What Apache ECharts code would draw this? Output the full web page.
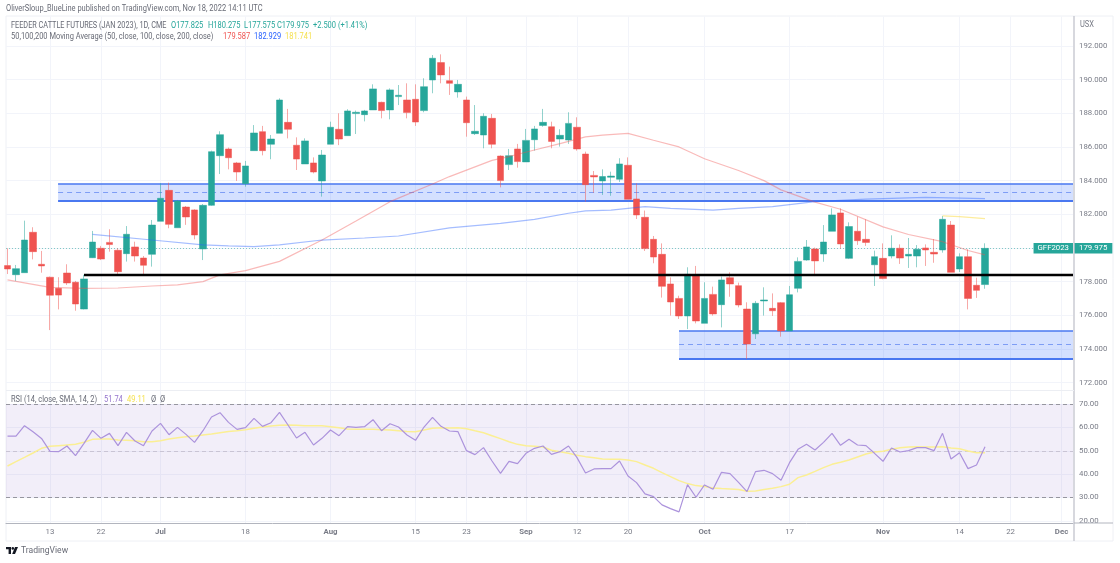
<!DOCTYPE html>
<html>
<head>
<meta charset="utf-8">
<style>html,body{margin:0;padding:0;background:#fff}#c{width:1120px;height:563px}</style>
<script src="https://cdn.jsdelivr.net/npm/echarts@6/dist/echarts.min.js"></script>
</head>
<body>
<div id="c"></div>
<script>
const opens = [178.95,178.41,178.53,180.93,179.03,178.26,177.60,178.51,177.96,176.37,179.42,179.98,180.33,179.86,179.66,180.06,179.40,179.62,181.58,183.42,181.20,182.43,182.26,179.94,182.53,185.48,185.88,185.05,183.82,185.78,186.91,186.16,186.81,187.46,186.10,184.99,185.05,183.98,186.16,187.05,186.67,187.98,187.92,188.20,188.65,188.20,188.99,188.79,188.83,188.16,189.98,191.01,189.94,189.27,188.79,186.79,186.71,187.70,185.46,184.95,185.88,185.11,186.43,187.28,187.20,186.47,186.41,187.17,185.58,184.31,183.98,184.20,184.08,184.91,182.91,181.82,180.51,179.62,177.86,177.00,175.96,178.33,175.52,177.24,176.63,178.23,177.76,176.37,174.90,176.85,176.41,176.75,175.07,177.60,179.28,179.94,179.64,180.99,182.08,179.38,180.99,180.51,179.00,179.38,179.52,179.98,179.52,179.52,180.00,179.74,179.88,181.36,178.75,179.48,177.78,177.825];
const closes = [178.75,178.77,180.47,179.78,178.93,177.19,177.20,177.92,176.67,178.16,180.35,179.34,180.20,178.59,180.81,179.52,178.97,181.36,182.95,181.40,182.79,181.84,180.77,182.53,185.72,186.73,185.36,184.51,184.87,186.83,185.78,186.47,188.79,187.05,185.28,186.36,184.51,185.52,187.17,186.47,188.14,188.06,188.14,189.45,188.16,189.39,189.07,188.04,187.48,189.58,191.27,190.28,189.78,189.72,187.44,186.93,187.82,186.16,184.00,185.48,185.13,186.39,187.07,187.46,186.33,186.69,187.40,185.88,183.76,184.22,184.24,184.27,184.99,182.89,181.96,179.96,179.46,177.72,176.79,175.96,178.43,175.66,177.00,176.08,178.10,177.86,176.61,174.29,176.71,176.91,176.27,175.07,177.22,179.20,180.06,179.23,180.35,181.96,180.24,181.27,180.43,180.33,179.48,178.18,179.98,179.40,179.62,179.92,179.88,179.64,181.70,178.55,179.48,177.00,177.48,179.975];
const lows = [178.45,178.04,178.53,179.32,178.53,175.12,176.35,177.80,176.27,176.35,179.40,179.28,179.78,178.43,179.19,179.19,178.35,178.89,181.58,181.17,181.20,181.37,180.51,179.28,182.50,184.39,184.67,183.98,183.64,185.78,185.50,185.27,186.81,186.51,184.63,184.99,184.43,183.05,186.16,186.11,186.67,186.77,187.52,188.20,187.70,187.64,188.49,187.70,187.25,188.06,189.19,189.78,189.09,188.93,186.61,186.71,185.92,185.92,183.60,184.63,184.77,185.11,185.78,187.20,185.92,186.02,186.18,185.78,182.75,183.28,183.15,183.10,183.92,182.89,181.72,179.82,179.09,177.05,175.98,175.78,175.18,175.52,175.52,175.98,175.28,177.10,176.47,173.40,174.59,175.98,175.96,174.73,175.07,177.36,179.24,178.33,179.18,180.99,179.96,179.34,180.18,180.12,177.74,178.14,179.38,179.05,178.81,178.85,178.93,179.12,179.72,178.55,178.57,176.35,177.03,177.575];
const highs = [179.98,178.99,181.62,181.23,179.82,178.30,178.26,179.03,178.04,178.40,181.01,180.12,181.11,179.98,181.30,180.37,179.52,181.66,183.84,183.88,182.85,182.49,182.30,182.61,185.78,186.93,185.96,185.11,185.17,187.30,187.25,186.71,188.89,188.26,186.57,186.51,185.38,185.82,187.50,188.00,188.24,188.16,188.20,189.72,188.69,189.48,189.68,189.78,189.72,190.08,191.46,191.50,190.77,189.98,188.99,188.49,188.00,187.96,185.50,185.88,186.18,187.07,187.25,188.26,187.50,187.05,188.06,187.76,185.72,184.57,184.67,184.53,185.33,185.38,183.84,182.22,180.71,180.27,178.25,177.16,178.85,178.93,177.96,177.70,178.30,178.55,177.94,176.77,176.85,177.66,177.30,176.79,177.74,179.44,180.47,180.02,181.36,182.35,182.35,181.52,181.86,181.70,179.84,180.27,180.75,180.21,180.59,180.17,180.21,180.53,181.90,181.60,179.68,179.92,178.23,180.275];

const ma50Index = [0,5,9,13,17,20,23,25,28,32,37,41,45,50,52,57,59,62,65,68,70,73,76,79,82,86,89,91,95,98,103,106,110,113,115];
const ma50Values = [178.1,177.66,177.6,177.62,177.74,177.8,178.0,178.4,178.65,179.2,180.47,181.6,182.75,183.8,184.24,185.2,185.43,185.82,186.2,186.6,186.7,186.81,186.4,186.0,185.3,184.6,184.0,183.45,182.72,182.3,181.25,180.8,180.37,179.85,179.587];
const ma100Index = [10,17,23,26,29,32,37,42,46,52,58,62,66,68,71,75,78,83,86,90,95,101,108,115];
const ma100Values = [180.81,180.47,180.18,180.12,180.08,180.18,180.47,180.59,180.71,181.19,181.46,181.7,182.06,182.2,182.25,182.45,182.35,182.25,182.35,182.45,182.75,182.9,183.0,182.929];
const ma200Index = [110,112,115];
const ma200Values = [181.9,181.86,181.741];

const rsiValues = [56.3,56.3,60.74,58.18,55.3,49.77,49.63,52.05,47.92,53.19,58.75,55.33,57.46,52.19,57.89,54.19,52.19,58.46,61.74,56.89,60.03,57.04,53.62,58.6,64.45,66.3,62.17,59.17,59.89,63.87,60.46,62.02,66.44,61.03,55.47,57.89,52.48,55.33,58.89,56.47,60.31,60.03,60.31,63.3,58.6,61.6,60.17,56.75,54.47,60.17,64.3,60.46,58.46,58.18,50.06,48.35,51.34,45.64,40.37,45.5,44.5,48.92,51.05,52.05,48.49,49.63,52.05,47.07,40.51,42.22,42.36,42.36,45.64,39.23,36.38,31.54,30.4,26.84,25.27,23.85,35.53,30.12,35.39,33.53,40.8,40.23,36.5,32.54,41.08,41.65,40.23,37.38,44.93,50.63,52.76,50.34,53.62,57.46,52.34,54.9,52.48,52.19,48.92,45.5,51.2,49.49,50.06,51.34,51.34,50.06,57.46,46.5,49.2,42.36,43.93,51.74];
const rsiMaValues = [43.5,45.36,47.2,49.06,51.06,51.9,52.2,52.48,52.76,53.62,54.9,55.05,55.05,54.6,54.47,54.33,53.9,53.9,54.33,55.05,55.6,56.04,56.3,56.75,57.18,57.75,58.3,58.6,59.03,59.6,60.17,60.6,60.88,61.03,60.88,60.74,60.74,60.74,60.31,59.89,59.32,59.17,59.17,59.17,59.03,58.9,58.6,58.3,58.18,58.9,59.6,59.89,59.75,59.89,59.46,58.6,57.75,56.47,55.19,53.9,52.76,52.19,51.9,51.6,50.2,49.63,48.92,48.06,47.5,47.07,46.5,46.35,46.35,46.07,45.36,43.93,42.5,40.66,38.95,37.24,35.96,35.1,34.67,34.1,33.82,33.67,33.4,32.68,32.82,33.39,33.96,34.67,35.67,38.52,39.66,41.2,42.8,44.2,45.07,46.07,47.35,48.63,49.46,49.77,50.63,51.34,51.6,51.77,51.6,51.6,51.77,51.2,50.91,49.92,49.2,49.11];

const tickIndexes = [5,11,18,28,38,48,54,61,67,73,82,92,103,112,118,124];
const tickLabels = ['13','22','Jul','18','Aug','15','23','Sep','12','20','Oct','17','Nov','14','22','Dec'];
const monthLabels = ['Jul','Aug','Sep','Oct','Nov','Dec'];
const priceTicks = [172,174,176,178,180,182,184,186,188,190,192];
const priceLabelTicks = [172,174,176,178,182,184,186,188,190,192];
const rsiTicks = [20,30,40,50,60,70];

const lastPrice = 179.975;
const supportLevel = 178.38;
const supportStart = 9;
const upperZone = {start: 5.95, top: 183.82, mid: 183.31, bottom: 182.83};
const lowerZone = {start: 79, top: 175.07, mid: 174.27, bottom: 173.44};

const GREEN = '#26a69a', RED = '#ef5350';
const XMIN = -0.176, XMAX = 125.35;
const GRID = '#f2f4fa', AXIS_TXT = '#787b86', TXT = '#686b76';
const FONT = 'Roboto, "Liberation Sans", sans-serif';
const FS = 7.8;

const pairs = (idx, vals) => idx.map((x, i) => [x, vals[i]]);
const indexed = vals => vals.map((v, i) => [i, v]);
const candles = opens.map((o, i) => [i, o, closes[i], lows[i], highs[i]]);
const hline = (x1, x2, y) => [{coord: [x1, y]}, {coord: [x2, y]}];

function zoneSeries(z) {
  return {
    type: 'line', xAxisIndex: 0, yAxisIndex: 0, data: [], z: 1, silent: true,
    markArea: {silent: true, z: 1, animation: false,
      itemStyle: {color: 'rgba(41,98,255,0.2)', borderWidth: 0},
      data: [[{coord: [z.start, z.top]}, {coord: [XMAX, z.bottom]}]]},
    markLine: {silent: true, z: 1, animation: false, symbol: 'none', label: {show: false},
      data: [
        [{coord: [z.start, z.top], lineStyle: {color: '#4a78f0', width: 1.6, type: 'solid'}}, {coord: [XMAX, z.top]}],
        [{coord: [z.start, z.bottom], lineStyle: {color: '#4a78f0', width: 1.8, type: 'solid'}}, {coord: [XMAX, z.bottom]}],
        [{coord: [z.start, z.mid], lineStyle: {color: '#7e9df5', width: 1, type: [5, 4]}}, {coord: [XMAX, z.mid]}]
      ]}
  };
}

const chart = echarts.init(document.getElementById('c'), null, {renderer: 'canvas'});

const makeXAxis = (gridIndex, showLabels) => ({
  type: 'value', gridIndex, min: XMIN, max: XMAX, scale: true,
  axisLine: {show: showLabels, onZero: false, lineStyle: {color: '#b2b5be', width: 1}},
  axisTick: {show: false, customValues: tickIndexes},
  splitLine: {show: true, lineStyle: {color: GRID, width: 1}},
  axisLabel: {
    show: showLabels, customValues: tickIndexes, margin: 5, hideOverlap: false,
    showMinLabel: true, showMaxLabel: true,
    fontFamily: FONT, fontSize: FS, color: AXIS_TXT,
    formatter: v => {
      const s = tickLabels[tickIndexes.indexOf(v)] || '';
      return monthLabels.includes(s) ? '{m|' + s + '}' : s;
    },
    rich: {m: {fontFamily: FONT, fontSize: FS, fontWeight: 'bold', color: AXIS_TXT}}
  }
});

function txt(text, x, y, fill, size, sx) {
  return {type: 'text', silent: true, z: 20, x, y, scaleX: sx || 0.87,
    style: {text, fill, font: (size || 8.6) + 'px ' + FONT, textAlign: 'left', textVerticalAlign: 'middle'}};
}

const option = {
  animation: false,
  backgroundColor: '#fff',
  grid: [
    {left: 6, right: 47, top: 16.5, height: 373.5, containLabel: false},
    {left: 6, right: 47, top: 390.5, height: 132.5, containLabel: false}
  ],
  xAxis: [makeXAxis(0, false), makeXAxis(1, true)],
  yAxis: [
    {type: 'value', gridIndex: 0, position: 'right', min: 171.56, max: 193.75, scale: true,
      axisLine: {show: false}, axisTick: {show: false, customValues: priceTicks},
      splitLine: {show: true, lineStyle: {color: GRID, width: 1}},
      axisLabel: {customValues: priceLabelTicks, margin: 6, fontFamily: FONT, fontSize: FS, color: AXIS_TXT,
        formatter: v => v.toFixed(3)}},
    {type: 'value', gridIndex: 1, position: 'right', min: 19.1, max: 75.8, scale: true,
      axisLine: {show: false}, axisTick: {show: false, customValues: rsiTicks},
      splitLine: {show: true, lineStyle: {color: GRID, width: 1}},
      axisLabel: {customValues: rsiTicks, margin: 6, fontFamily: FONT, fontSize: FS, color: AXIS_TXT,
        formatter: v => v.toFixed(2)}}
  ],
  series: [
    zoneSeries(upperZone),
    zoneSeries(lowerZone),
    {type: 'line', data: [], xAxisIndex: 0, yAxisIndex: 0, z: 1, silent: true,
      markLine: {silent: true, z: 1, animation: false, symbol: 'none',
        lineStyle: {color: 'rgba(38,166,154,0.55)', type: [1, 2], width: 1},
        label: {show: true, position: 'end', distance: 1, formatter: lastPrice.toFixed(3), color: '#fff',
          backgroundColor: GREEN, padding: [1.5, 5, 1, 5], fontFamily: FONT, fontSize: FS},
        data: [[{coord: [XMIN, lastPrice]}, {coord: [XMAX, lastPrice]}]]}},
    {type: 'line', data: [], xAxisIndex: 0, yAxisIndex: 0, z: 7, silent: true,
      markLine: {silent: true, z: 7, animation: false, symbol: 'none',
        lineStyle: {color: 'transparent'},
        label: {show: true, position: 'insideEnd', distance: 0, formatter: 'GFF2023', color: '#fff',
          backgroundColor: GREEN, padding: [1.5, 4, 1, 4], fontFamily: FONT, fontSize: FS},
        data: [[{coord: [XMIN, lastPrice]}, {coord: [XMAX, lastPrice]}]]}},
    {type: 'candlestick', name: 'GFF2023', xAxisIndex: 0, yAxisIndex: 0, z: 2, silent: true,
      barWidth: 6.6, encode: {x: 0, y: [1, 2, 3, 4]},
      data: candles,
      itemStyle: {color: GREEN, color0: RED, borderColor: 'rgba(38,166,154,0.5)', borderColor0: 'rgba(239,83,80,0.5)', borderWidth: 1}},
    {type: 'line', name: 'MA50', xAxisIndex: 0, yAxisIndex: 0, z: 3, silent: true, symbol: 'none',
      data: pairs(ma50Index, ma50Values), lineStyle: {color: 'rgba(239,83,80,0.4)', width: 1.2}},
    {type: 'line', name: 'MA100', xAxisIndex: 0, yAxisIndex: 0, z: 3, silent: true, symbol: 'none',
      data: pairs(ma100Index, ma100Values), lineStyle: {color: 'rgba(41,98,255,0.42)', width: 1.2}},
    {type: 'line', name: 'MA200', xAxisIndex: 0, yAxisIndex: 0, z: 3, silent: true, symbol: 'none',
      data: pairs(ma200Index, ma200Values), lineStyle: {color: 'rgba(251,224,90,0.6)', width: 1.2}},
    {type: 'line', data: [], xAxisIndex: 0, yAxisIndex: 0, z: 6, silent: true,
      markLine: {silent: true, z: 6, animation: false, symbol: 'none', label: {show: false},
        lineStyle: {color: '#000', width: 2.4, type: 'solid'},
        data: [hline(supportStart, XMAX, supportLevel)]}},
    {type: 'line', name: 'RSI', xAxisIndex: 1, yAxisIndex: 1, z: 4, silent: true, symbol: 'none',
      data: indexed(rsiValues), lineStyle: {color: '#ac93dc', width: 1.2}, 
      markArea: {silent: true, z: 1, animation: false, itemStyle: {color: 'rgba(126,87,194,0.1)'},
        data: [[{coord: [XMIN, 70]}, {coord: [XMAX, 30]}]]},
      markLine: {silent: true, z: 2, animation: false, symbol: 'none', label: {show: false},
        data: [
          [{coord: [XMIN, 70], lineStyle: {color: '#96969f', type: [4, 3], width: 1}}, {coord: [XMAX, 70]}],
          [{coord: [XMIN, 50], lineStyle: {color: '#c9c4d4', type: [4, 3], width: 1}}, {coord: [XMAX, 50]}],
          [{coord: [XMIN, 30], lineStyle: {color: '#96969f', type: [4, 3], width: 1}}, {coord: [XMAX, 30]}]
        ]}},
    {type: 'line', name: 'RSI MA', xAxisIndex: 1, yAxisIndex: 1, z: 3, silent: true, symbol: 'none',
      data: indexed(rsiMaValues), lineStyle: {color: '#fbef94', width: 1.5}}
  ],
  graphic: {elements: [
    {type: 'rect', silent: true, z: 0, shape: {x: 6, y: 16, width: 1107, height: 525},
      style: {fill: 'none', stroke: '#eef0f5', lineWidth: 1}},
    {type: 'line', silent: true, z: 20, shape: {x1: 1074, y1: 16, x2: 1074, y2: 541},
      style: {stroke: '#c6c8d0', lineWidth: 1.4}},
    {type: 'line', silent: true, z: 20, shape: {x1: 6, y1: 390.5, x2: 1074, y2: 390.5},
      style: {stroke: '#eceef3', lineWidth: 1}},
    {type: 'line', silent: true, z: 20, shape: {x1: 1074, y1: 523, x2: 1113, y2: 523},
      style: {stroke: '#b2b5be', lineWidth: 1}},
    txt('OliverSloup_BlueLine published on TradingView.com, Nov 18, 2022 14:11 UTC', 6, 9, TXT),
    txt('FEEDER CATTLE FUTURES (JAN 2023), 1D, CME', 11, 26, TXT, 8.6, 0.85),
    txt('O177.825', 171, 26, GREEN), txt('H180.275', 208, 26, GREEN), txt('L177.575', 244, 26, GREEN),
    txt('C179.975', 277, 26, GREEN), txt('+2.500 (+1.41%)', 313, 26, GREEN),
    txt('50,100,200 Moving Average (50, close, 100, close, 200, close)', 11, 37, TXT),
    txt('179.587', 223, 37, RED), txt('182.929', 254, 37, '#2962ff'), txt('181.741', 285, 37, '#f5e14f'),
    txt('RSI (14, close, SMA, 14, 2)', 11, 400, TXT),
    txt('51.74', 104, 400, '#9575cd'), txt('49.11', 127, 400, '#f5e14f'),
    txt('Ø', 151, 400, TXT), txt('Ø', 160, 400, TXT),
    txt('USX', 1080, 25, AXIS_TXT),
    txt('TradingView', 21, 551, TXT, 9.5, 0.9),
    {type: 'polygon', silent: true, z: 20, shape: {points: [[6,547],[11,547],[11,554],[8.6,554],[8.6,549.3],[6,549.3]]}, style: {fill: '#131722'}},
    {type: 'circle', silent: true, z: 20, shape: {cx: 12.8, cy: 548.4, r: 1.3}, style: {fill: '#131722'}},
    {type: 'polygon', silent: true, z: 20, shape: {points: [[15,547],[18,547],[15,554],[12.2,554]]}, style: {fill: '#131722'}}
  ]}
};

chart.setOption(option);
</script>
</body>
</html>
